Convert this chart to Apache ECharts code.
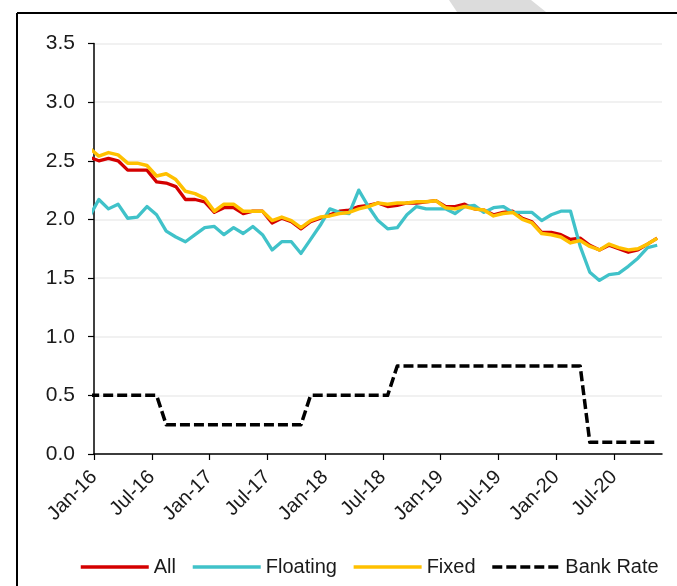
<!DOCTYPE html>
<html>
<head>
<meta charset="utf-8">
<script src="https://cdn.jsdelivr.net/npm/echarts@6/dist/echarts.min.js"></script>
<style>
  html, body { margin: 0; padding: 0; background: #fff; }
  #chart { width: 677px; height: 586px; }
</style>
</head>
<body>
<div id="chart"></div>
<script>
// months (Dec-15 is only there so the line enters the plot at the axis)
const months = [
  'Dec-15',
  'Jan-16', 'Feb-16', 'Mar-16', 'Apr-16', 'May-16', 'Jun-16', 'Jul-16', 'Aug-16', 'Sep-16', 'Oct-16', 'Nov-16', 'Dec-16',
  'Jan-17', 'Feb-17', 'Mar-17', 'Apr-17', 'May-17', 'Jun-17', 'Jul-17', 'Aug-17', 'Sep-17', 'Oct-17', 'Nov-17', 'Dec-17',
  'Jan-18', 'Feb-18', 'Mar-18', 'Apr-18', 'May-18', 'Jun-18', 'Jul-18', 'Aug-18', 'Sep-18', 'Oct-18', 'Nov-18', 'Dec-18',
  'Jan-19', 'Feb-19', 'Mar-19', 'Apr-19', 'May-19', 'Jun-19', 'Jul-19', 'Aug-19', 'Sep-19', 'Oct-19', 'Nov-19', 'Dec-19',
  'Jan-20', 'Feb-20', 'Mar-20', 'Apr-20', 'May-20', 'Jun-20', 'Jul-20', 'Aug-20', 'Sep-20', 'Oct-20', 'Nov-20'
]
const allRates = [
  2.53,
  2.50, 2.52, 2.50, 2.42, 2.42, 2.42, 2.32, 2.31, 2.28, 2.17, 2.17, 2.15,
  2.06, 2.10, 2.10, 2.05, 2.07, 2.07, 1.97, 2.01, 1.98, 1.92, 1.98, 2.01,
  2.04, 2.07, 2.08, 2.11, 2.12, 2.14, 2.11, 2.12, 2.14, 2.14, 2.15, 2.16,
  2.11, 2.11, 2.13, 2.09, 2.08, 2.04, 2.06, 2.07, 2.01, 1.98, 1.89, 1.89,
  1.87, 1.83, 1.84, 1.78, 1.74, 1.78, 1.75, 1.72, 1.74, 1.79, 1.84
]
const floatingRates = [
  2.02,
  2.17, 2.09, 2.13, 2.01, 2.02, 2.11, 2.04, 1.90, 1.85, 1.81, 1.87, 1.93,
  1.94, 1.87, 1.93, 1.88, 1.94, 1.87, 1.74, 1.81, 1.81, 1.71, 1.83, 1.95,
  2.09, 2.06, 2.05, 2.25, 2.11, 1.99, 1.92, 1.93, 2.04, 2.11, 2.09, 2.09,
  2.09, 2.05, 2.11, 2.12, 2.06, 2.10, 2.11, 2.06, 2.06, 2.06, 1.99, 2.04,
  2.07, 2.07, 1.77, 1.55, 1.48, 1.53, 1.54, 1.60, 1.67, 1.76, 1.78
]
const fixedRates = [
  2.61,
  2.54, 2.57, 2.55, 2.48, 2.48, 2.46, 2.37, 2.39, 2.34, 2.24, 2.22, 2.18,
  2.07, 2.13, 2.13, 2.07, 2.07, 2.07, 1.99, 2.02, 1.99, 1.93, 1.99, 2.02,
  2.03, 2.05, 2.06, 2.09, 2.11, 2.14, 2.13, 2.14, 2.14, 2.15, 2.15, 2.16,
  2.10, 2.09, 2.11, 2.09, 2.08, 2.03, 2.05, 2.06, 2.00, 1.97, 1.88, 1.87,
  1.85, 1.80, 1.82, 1.77, 1.74, 1.79, 1.76, 1.74, 1.75, 1.79, 1.84
]
const bankRate = [
  0.5,
  0.5, 0.5, 0.5, 0.5, 0.5, 0.5, 0.5, 0.25, 0.25, 0.25, 0.25, 0.25,
  0.25, 0.25, 0.25, 0.25, 0.25, 0.25, 0.25, 0.25, 0.25, 0.25, 0.5, 0.5,
  0.5, 0.5, 0.5, 0.5, 0.5, 0.5, 0.5, 0.75, 0.75, 0.75, 0.75, 0.75,
  0.75, 0.75, 0.75, 0.75, 0.75, 0.75, 0.75, 0.75, 0.75, 0.75, 0.75, 0.75,
  0.75, 0.75, 0.75, 0.1, 0.1, 0.1, 0.1, 0.1, 0.1, 0.1, 0.1
]
// x-axis tick labels, one every 6 months from Jan-16
const tickLabels = ['Jan-16', 'Jul-16', 'Jan-17', 'Jul-17', 'Jan-18', 'Jul-18', 'Jan-19', 'Jul-19', 'Jan-20', 'Jul-20']

const FONT = 'Liberation Sans, Arial, sans-serif'
const chart = echarts.init(document.getElementById('chart'))

// monthly points sit in the middle of each month (Jan-16 spans 0..1 on the axis)
const toPoints = (values) => values.map((v, k) => [k - 0.5, v])
const tickValues = tickLabels.map((_, k) => k * 6)

const lineSeries = (name, values, color, width, dash) => ({
  name: name,
  type: 'line',
  data: toPoints(values),
  symbol: 'none',
  showSymbol: false,
  clip: true,
  lineStyle: { color: color, width: width, type: dash || 'solid', cap: 'butt', join: 'round' },
  itemStyle: { color: color },
  emphasis: { disabled: true }
})

const option = {
  animation: false,
  backgroundColor: '#fff',
  grid: { left: 94, right: 15, top: 43.5, bottom: 132, containLabel: false },
  xAxis: {
    type: 'value',
    min: 0,
    max: 59,
    axisLine: { show: true, lineStyle: { color: '#000', width: 1.5 } },
    axisTick: { show: true, customValues: tickValues, length: 6, lineStyle: { color: '#000', width: 1.2 } },
    axisLabel: {
      customValues: tickValues,
      rotate: 45,
      margin: 20,
      fontSize: 20,
      fontFamily: FONT,
      color: '#1a1a1a',
      formatter: (v) => tickLabels[Math.round(v / 6)]
    },
    splitLine: { show: false }
  },
  yAxis: {
    type: 'value',
    min: 0,
    max: 3.5,
    interval: 0.5,
    axisLine: { show: true, lineStyle: { color: '#000', width: 1.5 } },
    axisTick: { show: true, length: 6, lineStyle: { color: '#000', width: 1.2 } },
    axisLabel: {
      margin: 19,
      fontSize: 21,
      fontFamily: FONT,
      color: '#1a1a1a',
      formatter: (v) => v.toFixed(1)
    },
    splitLine: { show: true, lineStyle: { color: '#ececec', width: 1.5 } }
  },
  legend: {
    data: ['All', 'Floating', 'Fixed', 'Bank Rate'],
    left: 74,
    top: 552,
    itemWidth: 68,
    itemHeight: 14,
    itemGap: 15,
    itemStyle: { opacity: 0 },
    lineStyle: { width: 3.5 },
    textStyle: { fontSize: 20, fontFamily: FONT, color: '#1a1a1a' }
  },
  series: [
    lineSeries('All', allRates, '#d40000', 3.3),
    lineSeries('Floating', floatingRates, '#40c2c9', 3.3),
    lineSeries('Fixed', fixedRates, '#ffc000', 3.5),
    lineSeries('Bank Rate', bankRate, '#000', 3.5, [10, 4])
  ],
  graphic: [
    // frame of the original figure
    { type: 'line', shape: { x1: 17, y1: 13, x2: 677, y2: 13 }, style: { stroke: '#000', lineWidth: 2 } },
    { type: 'line', shape: { x1: 17, y1: 13, x2: 17, y2: 586 }, style: { stroke: '#000', lineWidth: 2 } },
    { type: 'polygon', shape: { points: [[449, 0], [531, 0], [546, 12], [457, 12]] }, style: { fill: '#dcdcdc' } }
  ]
}
chart.setOption(option)
</script>
</body>
</html>
